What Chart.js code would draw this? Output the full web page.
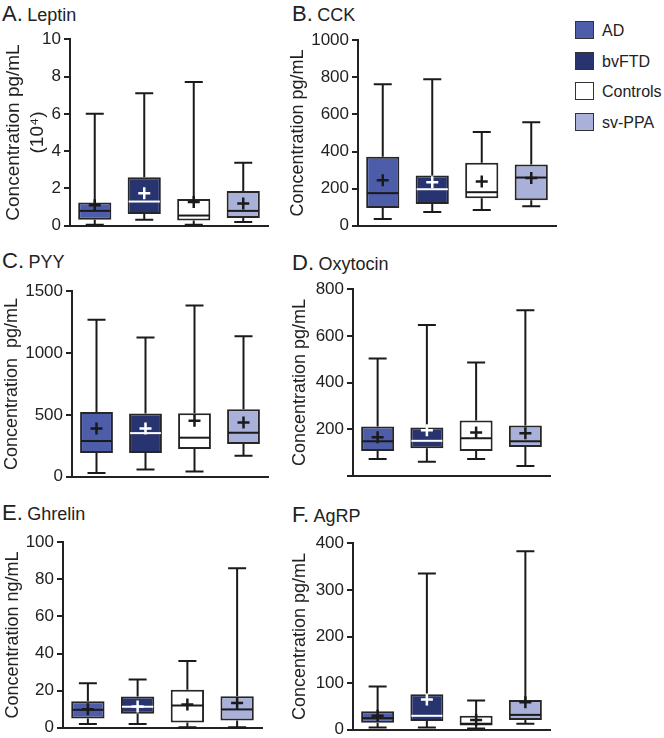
<!DOCTYPE html>
<html>
<head>
<meta charset="utf-8">
<script src="https://cdn.jsdelivr.net/npm/chart.js@4.4.1/dist/chart.umd.min.js"></script>
<style>
body { margin: 0; background: #fff; font-family: "Liberation Sans", Arial, sans-serif; color: #222; }
#page { position: relative; width: 664px; height: 738px; overflow: hidden; }
canvas { position: absolute; }
.ttl { position: absolute; white-space: nowrap; line-height: 1; }
.ttl .l { font-size: 22px; }
.ttl .n { font-size: 18px; }
.leg { position: absolute; left: 575px; font-size: 16px; line-height: 19px; white-space: nowrap; }
.leg i { position: absolute; left: 0; top: 0; width: 17px; height: 16px; border: 1.5px solid #333; }
.leg span { position: absolute; left: 27px; top: 0; }
</style>
</head>
<body>
<div id="page">
  <div class="ttl" style="left:2px;top:3px"><span class="l">A.</span> <span class="n">Leptin</span></div>
  <div class="ttl" style="left:292px;top:3px"><span class="l">B.</span> <span class="n">CCK</span></div>
  <div class="ttl" style="left:2px;top:250px"><span class="l">C.</span> <span class="n">PYY</span></div>
  <div class="ttl" style="left:292px;top:252px"><span class="l">D.</span> <span class="n">Oxytocin</span></div>
  <div class="ttl" style="left:2px;top:502px"><span class="l">E.</span> <span class="n">Ghrelin</span></div>
  <div class="ttl" style="left:292px;top:504px"><span class="l">F.</span> <span class="n">AgRP</span></div>
  <div id="legend"></div>
</div>
<script>
// groups and colours
const groups = ['AD', 'bvFTD', 'Controls', 'sv-PPA'];
const fills = ['#4d5da9', '#28346f', '#ffffff', '#a9b0d9'];
const markColors = ['#1a1a1a', '#ffffff', '#1a1a1a', '#1a1a1a'];

// A. Leptin (10^4 pg/mL)
const leptinMin = [0.05, 0.33, 0.05, 0.2];
const leptinQ1 = [0.32, 0.63, 0.28, 0.42];
const leptinMedian = [0.8, 1.3, 0.55, 0.8];
const leptinQ3 = [1.25, 2.6, 1.43, 1.87];
const leptinMax = [6.0, 7.1, 7.7, 3.38];
const leptinMean = [1.1, 1.75, 1.28, 1.2];

// B. CCK
const cckMin = [37, 75, 85, 106];
const cckQ1 = [96, 117, 149, 138];
const cckMedian = [176, 197, 181, 260];
const cckQ3 = [372, 271, 340, 330];
const cckMax = [762, 790, 505, 558];
const cckMean = [245, 234, 239, 258];

// C. PYY
const pyyMin = [30, 59, 43, 171];
const pyyQ1 = [192, 192, 225, 265];
const pyyMedian = [289, 353, 316, 356];
const pyyQ3 = [524, 511, 513, 545];
const pyyMax = [1270, 1125, 1385, 1135];
const pyyMean = [390, 390, 452, 439];

// D. Oxytocin
const oxyMin = [72, 60, 72, 42];
const oxyQ1 = [106, 118, 106, 123];
const oxyMedian = [148, 150, 161, 148];
const oxyQ3 = [211, 207, 237, 216];
const oxyMax = [503, 647, 486, 710];
const oxyMean = [165, 195, 186, 182];

// E. Ghrelin (ng/mL)
const ghrelinMin = [2, 2, 0.3, 0.3];
const ghrelinQ1 = [5, 7.6, 2.8, 4];
const ghrelinMedian = [9.7, 11.3, 12, 9.9];
const ghrelinQ3 = [14.3, 16.8, 20.5, 17];
const ghrelinMax = [24, 26, 36, 86];
const ghrelinMean = [10, 11.5, 12.5, 13.4];

// F. AgRP
const agrpMin = [5, 5, 3, 13];
const agrpQ1 = [15, 19, 9, 21];
const agrpMedian = [25, 30, 13, 32];
const agrpQ3 = [40, 76, 30, 64];
const agrpMax = [93, 335, 63, 383];
const agrpMean = [30, 65, 21, 59];

Chart.defaults.font.family = '"Liberation Sans", Arial, sans-serif';
Chart.defaults.color = '#222';

// whiskers behind the boxes, median and mean on top
const boxExtras = {
  id: 'boxExtras',
  beforeDatasetsDraw(chart, args, opts) {
    const ctx = chart.ctx, y = chart.scales.y;
    const bars = chart.getDatasetMeta(0).data;
    ctx.save();
    ctx.strokeStyle = '#1a1a1a';
    ctx.lineWidth = 2;
    bars.forEach((bar, i) => {
      const x = bar.x, cap = 9;
      const yMin = y.getPixelForValue(opts.min[i]);
      const yMax = y.getPixelForValue(opts.max[i]);
      const yQ1 = y.getPixelForValue(opts.q1[i]);
      const yQ3 = y.getPixelForValue(opts.q3[i]);
      ctx.beginPath();
      ctx.moveTo(x, yQ3); ctx.lineTo(x, yMax);
      ctx.moveTo(x - cap, yMax); ctx.lineTo(x + cap, yMax);
      ctx.moveTo(x, yQ1); ctx.lineTo(x, yMin);
      ctx.moveTo(x - cap, yMin); ctx.lineTo(x + cap, yMin);
      ctx.stroke();
    });
    ctx.restore();
  },
  afterDatasetsDraw(chart, args, opts) {
    const ctx = chart.ctx, y = chart.scales.y;
    const bars = chart.getDatasetMeta(0).data;
    ctx.save();
    bars.forEach((bar, i) => {
      const x = bar.x, half = bar.width / 2;
      ctx.strokeStyle = markColors[i];
      ctx.lineWidth = 2;
      const yMed = y.getPixelForValue(opts.median[i]);
      ctx.beginPath();
      ctx.moveTo(x - half + 1, yMed); ctx.lineTo(x + half - 1, yMed);
      ctx.stroke();
      const yMean = y.getPixelForValue(opts.mean[i]);
      ctx.lineWidth = 2.5;
      ctx.beginPath();
      ctx.moveTo(x - 6, yMean); ctx.lineTo(x + 6, yMean);
      ctx.moveTo(x, yMean - 6); ctx.lineTo(x, yMean + 6);
      ctx.stroke();
    });
    ctx.restore();
  }
};

function makePanel(p) {
  const canvas = document.createElement('canvas');
  canvas.width = p.width;
  canvas.height = p.height;
  canvas.style.left = p.left + 'px';
  canvas.style.top = p.top + 'px';
  document.getElementById('page').appendChild(canvas);

  new Chart(canvas, {
    type: 'bar',
    data: {
      labels: groups,
      datasets: [{
        data: p.q1.map((v, i) => [v, p.q3[i]]),
        backgroundColor: fills,
        borderColor: '#262626',
        borderWidth: 2,
        borderSkipped: false,
        barPercentage: 0.67,
        categoryPercentage: 1
      }]
    },
    options: {
      responsive: false,
      animation: false,
      events: [],
      layout: { padding: { top: 12, bottom: 12, left: 0, right: 4 } },
      plugins: {
        legend: { display: false },
        tooltip: { enabled: false },
        boxExtras: { min: p.min, q1: p.q1, median: p.median, q3: p.q3, max: p.max, mean: p.mean }
      },
      scales: {
        x: {
          grid: { display: false, drawTicks: false },
          ticks: { display: false },
          border: { color: '#222', width: 2 },
          afterFit: s => { s.height = 0; }
        },
        y: {
          min: 0,
          max: p.yMax,
          grid: { display: true, drawOnChartArea: false, drawTicks: true, tickLength: 6, color: '#222', lineWidth: 2 },
          border: { color: '#222', width: 2 },
          ticks: {
            stepSize: p.step,
            padding: 3,
            font: { size: 17 },
            color: '#222',
            callback: v => (p.hideZero && v === 0) ? '' : v
          },
          title: {
            display: true,
            text: p.title,
            color: '#222',
            padding: { top: p.titlePad, bottom: 0 },
            font: { size: p.titleSize, lineHeight: 1.3 }
          },
          afterFit: s => { s.width = p.yWidth; }
        }
      }
    },
    plugins: [boxExtras]
  });
}

makePanel({ left: 0, top: 26, width: 272, height: 213, yWidth: 70, yMax: 10, step: 2,
  title: ['Concentration pg/mL', '(10⁴)'], titleSize: 19, titlePad: 1,
  min: leptinMin, q1: leptinQ1, median: leptinMedian, q3: leptinQ3, max: leptinMax, mean: leptinMean });
makePanel({ left: 285, top: 27, width: 275, height: 212, yWidth: 73, yMax: 1000, step: 200,
  title: 'Concentration pg/mL', titleSize: 18, titlePad: 1,
  min: cckMin, q1: cckQ1, median: cckMedian, q3: cckQ3, max: cckMax, mean: cckMean });
makePanel({ left: 0, top: 278, width: 272, height: 212, yWidth: 72, yMax: 1500, step: 500,
  title: 'Concentration  pg/mL', titleSize: 18, titlePad: 0,
  min: pyyMin, q1: pyyQ1, median: pyyMedian, q3: pyyQ3, max: pyyMax, mean: pyyMean });
makePanel({ left: 287, top: 276, width: 267, height: 213, yWidth: 66, yMax: 800, step: 200, hideZero: true,
  title: 'Concentration pg/mL', titleSize: 18, titlePad: 1,
  min: oxyMin, q1: oxyQ1, median: oxyMedian, q3: oxyQ3, max: oxyMax, mean: oxyMean });
makePanel({ left: 0, top: 529, width: 266, height: 212, yWidth: 63, yMax: 100, step: 20,
  title: 'Concentration ng/mL', titleSize: 18, titlePad: 1,
  min: ghrelinMin, q1: ghrelinQ1, median: ghrelinMedian, q3: ghrelinQ3, max: ghrelinMax, mean: ghrelinMean });
makePanel({ left: 287, top: 530, width: 267, height: 213, yWidth: 66, yMax: 400, step: 100,
  title: 'Concentration pg/mL', titleSize: 18, titlePad: 1,
  min: agrpMin, q1: agrpQ1, median: agrpMedian, q3: agrpQ3, max: agrpMax, mean: agrpMean });

// legend
const legend = document.getElementById('legend');
groups.forEach((g, i) => {
  const row = document.createElement('div');
  row.className = 'leg';
  row.style.top = (21 + i * 30.5) + 'px';
  row.innerHTML = '<i style="background:' + fills[i] + '"></i><span>' + g + '</span>';
  legend.appendChild(row);
});
</script>
</body>
</html>
